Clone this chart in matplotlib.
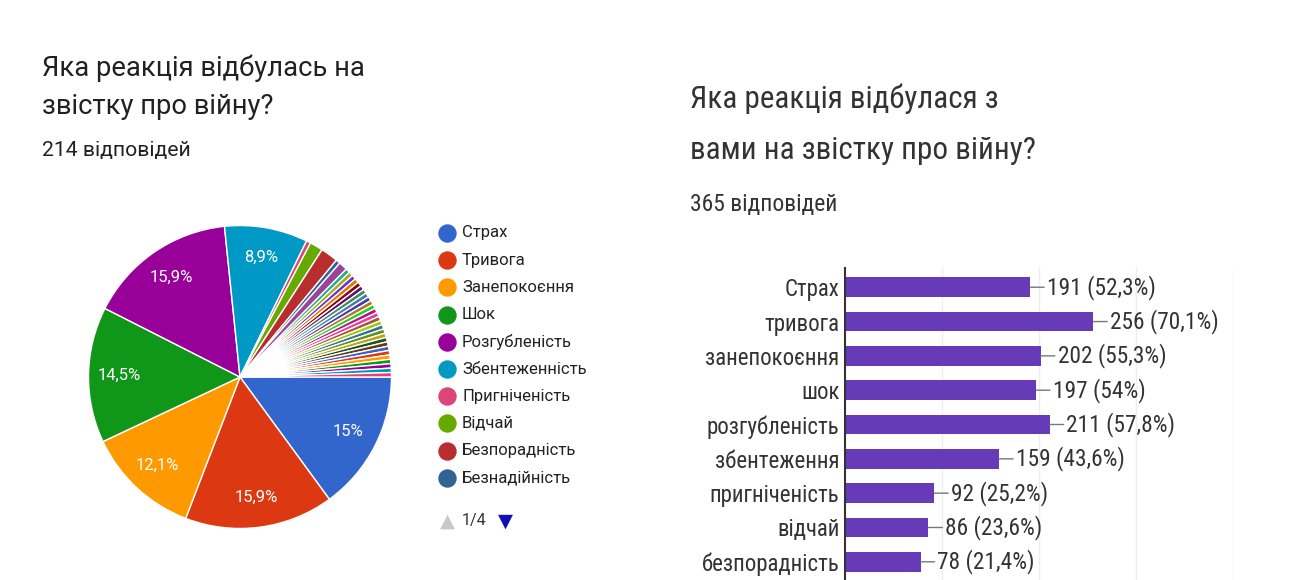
import matplotlib.pyplot as plt
import matplotlib as mpl

W, H = 1307, 580

# left survey (pie): answers count per reaction, 214 answers
pieCounts = [32, 34, 26, 31, 34, 19, 1, 3, 4, 1, 2,
             1, 1, 1, 1, 1, 1, 1, 1, 1, 1, 1, 1, 1, 1,
             1, 1, 1, 1, 1, 1, 1, 1, 1, 1, 1, 1, 1]
legendLabels = ['Страх', 'Тривога', 'Занепокоєння', 'Шок', 'Розгубленість',
                'Збентеженність', 'Пригніченість', 'Відчай', 'Безпорадність', 'Безнадійність']

# right survey (bars), 365 answers
barLabels = ['Страх', 'тривога', 'занепокоєння', 'шок', 'розгубленість',
             'збентеження', 'пригніченість', 'відчай', 'безпорадність']
barValues = [191, 256, 202, 197, 211, 159, 92, 86, 78]
barTotal = 365

palette = ['#3366cc', '#dc3912', '#ff9900', '#109618', '#990099', '#0099c6', '#dd4477',
           '#66aa00', '#b82e2e', '#316395', '#994499', '#22aa99', '#aaaa11', '#6633cc',
           '#e67300', '#8b0707', '#651067', '#329262', '#5574a6', '#3b3eac', '#b77322',
           '#16d620', '#b91383', '#f4359e', '#9c5935', '#a9c413', '#2a778d', '#668d1c',
           '#bea413', '#0c5922', '#743411']

leftFont = ['Roboto', 'DejaVu Sans']
rightFont = ['Roboto Condensed', 'Liberation Sans Narrow', 'Roboto', 'DejaVu Sans']


def pctText(p):
    s = f'{p:.1f}'.rstrip('0').rstrip('.')
    return s.replace('.', ',') + '%'


def figBox(left, top, right, bottom):
    return [left / W, 1 - bottom / H, (right - left) / W, (bottom - top) / H]


fig = plt.figure(figsize=(W / 100, H / 100), dpi=100)
fig.patch.set_facecolor('white')

# overlay in pixel coordinates for titles and legend
ov = fig.add_axes([0, 0, 1, 1], zorder=-1)
ov.set_xlim(0, W)
ov.set_ylim(H, 0)
ov.axis('off')

ov.text(42, 76, 'Яка реакція відбулась на', fontsize=19.7, family=leftFont, color='#212121')
ov.text(42, 114, 'звістку про війну?', fontsize=19.7, family=leftFont, color='#212121')
ov.text(42, 156, '214 відповідей', fontsize=15.2, family=leftFont, color='#212121')

ov.text(690, 108, 'Яка реакція відбулася з', fontsize=22.4, family=rightFont, color='#333333')
ov.text(690, 159, 'вами на звістку про війну?', fontsize=22.4, family=rightFont, color='#333333')
ov.text(690, 211, '365 відповідей', fontsize=17, family=rightFont, color='#333333')

# pie
axPie = fig.add_axes(figBox(87, 224, 393, 530))
colors = [palette[i % len(palette)] for i in range(len(pieCounts))]
wedges, texts, autotexts = axPie.pie(
    pieCounts, colors=colors, startangle=0, counterclock=False,
    autopct=lambda p: pctText(p) if p > 5 else '', pctdistance=0.8,
    wedgeprops=dict(edgecolor='white', linewidth=1),
    textprops=dict(color='white', fontsize=12, family=leftFont))
axPie.set_xlim(-1.01, 1.01)
axPie.set_ylim(-1.01, 1.01)
axPie.set_aspect('equal')
axPie.patch.set_alpha(0)

# legend (first page of 4)
for i, lab in enumerate(legendLabels):
    y = 233 + i * 27.2
    ov.scatter(447, y, s=150, color=palette[i], zorder=3)
    ov.text(462, y, lab, fontsize=12, family=leftFont, color='#222222', va='center')
ov.text(447, 521, '▲', fontsize=14, color='#c8c8c8', ha='center', va='center')
ov.text(462, 521, '1/4', fontsize=11.5, family=leftFont, color='#333333', va='center')
ov.text(505, 521, '▼', fontsize=14, color='#1010b0', ha='center', va='center')

# bars
axBar = fig.add_axes(figBox(845, 268, 1233, 580))
ypos = list(range(len(barLabels)))
axBar.barh(ypos, barValues, height=0.58, color='#673ab7', zorder=2)
axBar.set_xlim(0, 400)
axBar.set_ylim(len(barLabels) - 0.47, -0.56)
axBar.set_yticks(ypos)
axBar.set_yticklabels(barLabels, family=rightFont, fontsize=16.5, color='#333333')
axBar.tick_params(axis='y', length=0, pad=4)
axBar.set_xticks([100, 200, 300, 400])
axBar.tick_params(axis='x', length=0, labelbottom=False)
axBar.grid(axis='x', color='#efefef', linewidth=1, zorder=0)
for s in ['top', 'right', 'bottom']:
    axBar.spines[s].set_visible(False)
axBar.spines['left'].set_color('#333333')
axBar.spines['left'].set_linewidth(1.5)
axBar.spines['left'].set_zorder(3)

for i, v in enumerate(barValues):
    axBar.annotate(f'{v} ({pctText(100 * v / barTotal)})', xy=(v, i), xytext=(12, 0),
                   textcoords='offset points', va='center', ha='left',
                   fontsize=16.8, family=rightFont, color='#333333',
                   arrowprops=dict(arrowstyle='-', color='#777777', lw=1,
                                   shrinkA=0, shrinkB=0))

fig.savefig('out.png', dpi=100, facecolor='white')
